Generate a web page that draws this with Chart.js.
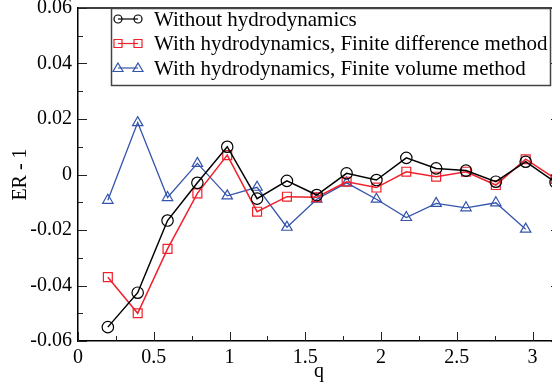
<!DOCTYPE html>
<html>
<head>
<meta charset="utf-8">
<script src="https://cdn.jsdelivr.net/npm/chart.js@4/dist/chart.umd.min.js"></script>
<style>
  html, body { margin: 0; padding: 0; background: #fff; }
  #wrap { width: 552px; height: 387px; overflow: hidden; }
</style>
</head>
<body>
<div id="wrap"><canvas id="myChart" width="572" height="387"></canvas></div>
<script>
// data
const qValues = [0.197, 0.394, 0.591, 0.788, 0.985, 1.182, 1.379, 1.576, 1.773, 1.97, 2.167, 2.364, 2.561, 2.758, 2.955, 3.152];
const withoutHydro = [-0.055, -0.0426, -0.0166, -0.003, 0.010, -0.0087, -0.0023, -0.0074, 0.0004, -0.002, 0.006, 0.0022, 0.0014, -0.0026, 0.0046, -0.0028];
const finiteDiff = [-0.037, -0.050, -0.0268, -0.0068, 0.007, -0.0134, -0.008, -0.0082, -0.0026, -0.0047, 0.001, -0.0008, 0.001, -0.0038, 0.0055, -0.0016];
const finiteVol = [-0.0093, 0.0187, -0.0083, 0.004, -0.0077, -0.0046, -0.019, -0.0089, -0.003, -0.0089, -0.0155, -0.0104, -0.012, -0.0102, -0.0197];

const seriesNames = ["Without hydrodynamics", "With hydrodynamics, Finite difference method", "With hydrodynamics, Finite volume method"];
const xTicks = [0, 0.5, 1, 1.5, 2, 2.5, 3];
const xTickLabels = ["0", "0.5", "1", "1.5", "2", "2.5", "3"];
const yTicks = [-0.06, -0.04, -0.02, 0, 0.02, 0.04, 0.06];
const yTickLabels = ["-0.06", "-0.04", "-0.02", "0", "0.02", "0.04", "0.06"];

const FONT = "'Liberation Serif', 'Times New Roman', serif";

function toPoints(vals) {
    return vals.map((v, i) => ({ x: qValues[i], y: v }));
}

// inner ticks + top/right frame
const frameTicks = {
    id: 'frameTicks',
    afterDraw(chart) {
        const ctx = chart.ctx;
        const a = chart.chartArea;
        const xs = chart.scales.x, ys = chart.scales.y;
        ctx.save();
        ctx.strokeStyle = '#000';
        ctx.lineWidth = 1.5;
        ctx.beginPath();
        ctx.moveTo(a.left, a.top); ctx.lineTo(a.right, a.top); ctx.lineTo(a.right, a.bottom);
        ctx.stroke();
        ctx.lineWidth = 1;
        ctx.strokeStyle = '#222';
        ctx.beginPath();
        for (let i = 0; i < xTicks.length; i++) {
            const px = Math.round(xs.getPixelForValue(xTicks[i])) + 0.5;
            ctx.moveTo(px, a.bottom); ctx.lineTo(px, a.bottom - 9);
            const mx = Math.round(xs.getPixelForValue(xTicks[i] + 0.25)) + 0.5;
            if (mx < a.right) { ctx.moveTo(mx, a.bottom); ctx.lineTo(mx, a.bottom - 5); }
        }
        for (let i = 0; i < yTicks.length; i++) {
            const py = Math.round(ys.getPixelForValue(yTicks[i])) + 0.5;
            ctx.moveTo(a.left, py); ctx.lineTo(a.left + 9, py);
            ctx.moveTo(a.right, py); ctx.lineTo(a.right - 9, py);
            if (i < yTicks.length - 1) {
                const my = Math.round(ys.getPixelForValue(yTicks[i] + 0.01)) + 0.5;
                ctx.moveTo(a.left, my); ctx.lineTo(a.left + 5, my);
                ctx.moveTo(a.right, my); ctx.lineTo(a.right - 5, my);
            }
        }
        ctx.stroke();
        ctx.restore();
    }
};

// grace-style legend box in the top left of the plot
const boxLegend = {
    id: 'boxLegend',
    afterDraw(chart) {
        const ctx = chart.ctx;
        const a = chart.chartArea;
        const bx = a.left + 33, by = a.top, bw = 439, bh = 77;
        ctx.save();
        ctx.fillStyle = '#fff';
        ctx.fillRect(bx, by, bw, bh);
        ctx.strokeStyle = '#444';
        ctx.lineWidth = 1.5;
        ctx.strokeRect(bx + 0.5, by + 0.5, bw, bh);
        ctx.font = "21px " + FONT;
        ctx.textBaseline = 'middle';
        chart.data.datasets.forEach((ds, i) => {
            const cy = by + 11 + i * 24.5;
            const x1 = bx + 7, x2 = bx + 27;
            ctx.strokeStyle = ds.borderColor;
            ctx.lineWidth = 1.2;
            ctx.beginPath(); ctx.moveTo(x1, cy); ctx.lineTo(x2, cy); ctx.stroke();
            [x1, x2].forEach(px => {
                ctx.beginPath();
                if (ds.pointStyle === 'circle') {
                    ctx.arc(px, cy, 4, 0, Math.PI * 2);
                } else if (ds.pointStyle === 'rect') {
                    ctx.rect(px - 4, cy - 4, 8, 8);
                } else {
                    ctx.moveTo(px, cy - 5); ctx.lineTo(px + 5, cy + 3.5); ctx.lineTo(px - 5, cy + 3.5); ctx.closePath();
                }
                ctx.stroke();
            });
            ctx.fillStyle = '#000';
            ctx.fillText(ds.label, bx + 43, cy + 1);
        });
        ctx.restore();
    }
};

const ctx = document.getElementById("myChart").getContext('2d');

const myChart = new Chart(ctx, {
    type: 'line',
    data: {
        datasets: [{
            label: seriesNames[0],
            data: toPoints(withoutHydro),
            borderColor: '#000',
            backgroundColor: 'rgba(0,0,0,0)',
            pointStyle: 'circle',
            pointRadius: 5.7,
            pointBorderWidth: 1.2,
            borderWidth: 1.5,
            tension: 0
        }, {
            label: seriesNames[1],
            data: toPoints(finiteDiff),
            borderColor: '#f0202c',
            backgroundColor: 'rgba(0,0,0,0)',
            pointStyle: 'rect',
            pointRadius: 6.3,
            pointBorderWidth: 1.2,
            borderWidth: 1.5,
            tension: 0
        }, {
            label: seriesNames[2],
            data: toPoints(finiteVol),
            borderColor: '#3454ac',
            backgroundColor: 'rgba(0,0,0,0)',
            pointStyle: 'triangle',
            pointRadius: 6,
            pointBorderWidth: 1.2,
            borderWidth: 1.3,
            tension: 0
        }]
    },
    options: {
        responsive: false,
        animation: false,
        layout: { padding: { top: 8, right: 12, left: 0, bottom: 0 } },
        plugins: { legend: { display: false }, tooltip: { enabled: false } },
        scales: {
            x: {
                type: 'linear',
                min: 0,
                max: (560 - 78) / 151.5,
                afterBuildTicks: s => { s.ticks = xTicks.map(v => ({ value: v })); },
                afterFit: s => { s.height = 46; s.paddingLeft = 0; s.paddingRight = 0; },
                ticks: {
                    autoSkip: false,
                    maxRotation: 0,
                    padding: 5,
                    color: '#000',
                    font: { family: FONT, size: 20 },
                    callback: (v) => xTickLabels[xTicks.indexOf(v)]
                },
                grid: { display: false, drawTicks: false },
                border: { display: true, color: '#000', width: 1.5 },
                title: {
                    display: true, text: 'q', color: '#000',
                    font: { family: FONT, size: 20 }, padding: { top: 0, bottom: 3 }
                }
            },
            y: {
                min: -0.06,
                max: 0.06,
                afterBuildTicks: s => { s.ticks = yTicks.map(v => ({ value: v })); },
                afterFit: s => { s.width = 78; s.paddingTop = 0; s.paddingBottom = 0; },
                ticks: {
                    autoSkip: false,
                    padding: 6,
                    color: '#000',
                    font: { family: FONT, size: 20 },
                    callback: (v) => yTickLabels[yTicks.findIndex(t => Math.abs(t - v) < 1e-9)]
                },
                grid: { display: false, drawTicks: false },
                border: { display: true, color: '#000', width: 1.5 },
                title: {
                    display: true, text: 'ER - 1', color: '#000',
                    font: { family: FONT, size: 20 }, padding: { top: 9, bottom: 0 }
                }
            }
        }
    },
    plugins: [frameTicks, boxLegend]
});
</script>
</body>
</html>
